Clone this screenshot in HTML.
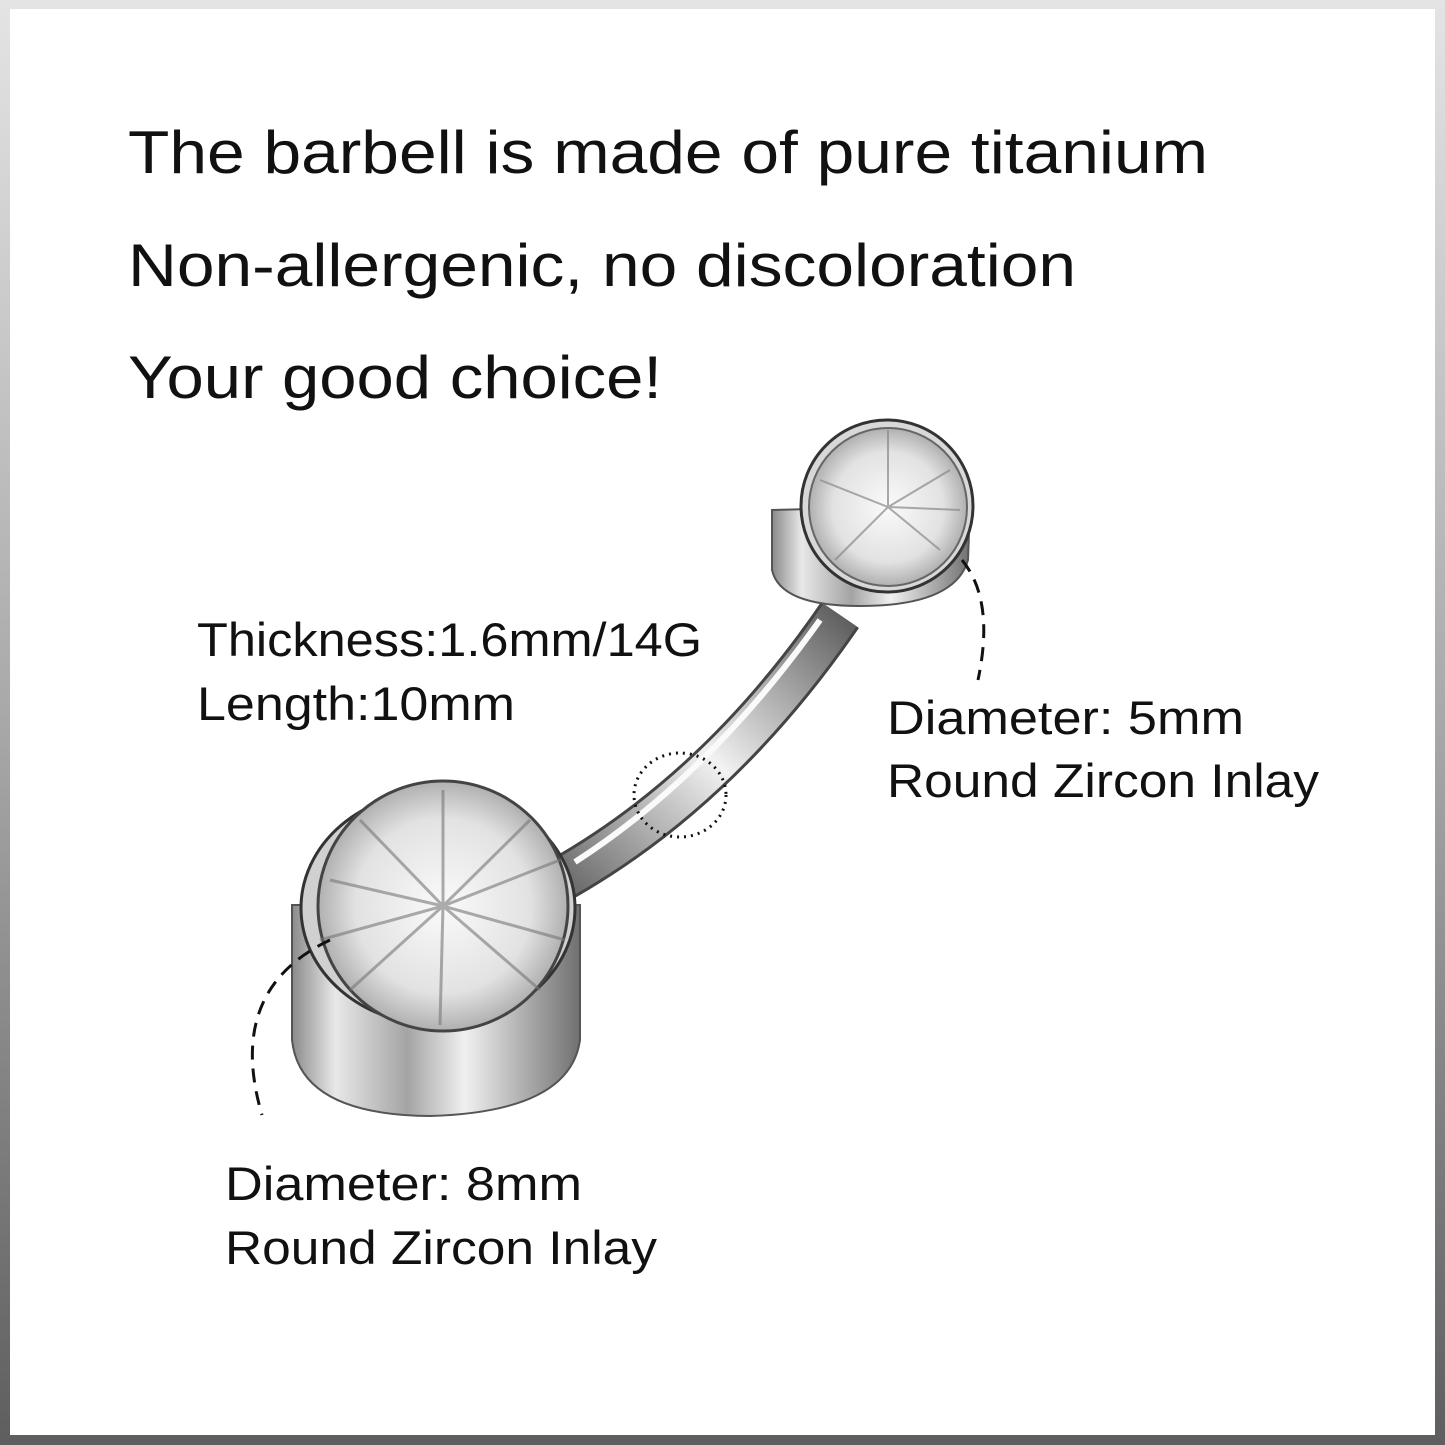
<!DOCTYPE html>
<html><head><style>html,body{margin:0;padding:0;background:#fff}svg{display:block}</style></head>
<body>
<svg width="1445" height="1445" viewBox="0 0 1445 1445" xmlns="http://www.w3.org/2000/svg">
<defs>
<linearGradient id="frame" x1="0" y1="0" x2="0" y2="1">
<stop offset="0" stop-color="#e4e4e4"/><stop offset="0.5" stop-color="#a8a8a8"/><stop offset="1" stop-color="#5e5e5e"/>
</linearGradient>
<linearGradient id="metal" x1="0" y1="0" x2="1" y2="0">
<stop offset="0" stop-color="#8a8a8a"/><stop offset="0.15" stop-color="#e8e8e8"/><stop offset="0.4" stop-color="#a4a4a4"/><stop offset="0.6" stop-color="#f0f0f0"/><stop offset="0.85" stop-color="#a0a0a0"/><stop offset="1" stop-color="#707070"/>
</linearGradient>
<linearGradient id="bar" x1="0" y1="1" x2="1" y2="0">
<stop offset="0" stop-color="#6a6a6a"/><stop offset="0.5" stop-color="#f2f2f2"/><stop offset="1" stop-color="#606060"/>
</linearGradient>
<radialGradient id="gem" cx="0.5" cy="0.5" r="0.5">
<stop offset="0" stop-color="#fafafa"/><stop offset="0.7" stop-color="#e2e2e2"/><stop offset="1" stop-color="#b0b0b0"/>
</radialGradient>
</defs>
<rect width="1445" height="1445" fill="url(#frame)"/>
<rect x="10" y="9" width="1425" height="1426" fill="#fff"/>
<g font-family="Liberation Sans, sans-serif" fill="#111">
<text x="128" y="173" font-size="60" textLength="1080" lengthAdjust="spacingAndGlyphs">The barbell is made of pure titanium</text>
<text x="128" y="286" font-size="60" textLength="948" lengthAdjust="spacingAndGlyphs">Non-allergenic, no discoloration</text>
<text x="128" y="398" font-size="60" textLength="534" lengthAdjust="spacingAndGlyphs">Your good choice!</text>
<text x="197" y="656" font-size="47" textLength="505" lengthAdjust="spacingAndGlyphs">Thickness:1.6mm/14G</text>
<text x="197" y="720" font-size="47" textLength="318" lengthAdjust="spacingAndGlyphs">Length:10mm</text>
<text x="887" y="734" font-size="47" textLength="357" lengthAdjust="spacingAndGlyphs">Diameter: 5mm</text>
<text x="887" y="797" font-size="47" textLength="432" lengthAdjust="spacingAndGlyphs">Round Zircon Inlay</text>
<text x="225" y="1200" font-size="47" textLength="357" lengthAdjust="spacingAndGlyphs">Diameter: 8mm</text>
<text x="225" y="1264" font-size="47" textLength="432" lengthAdjust="spacingAndGlyphs">Round Zircon Inlay</text>
</g>
<!-- bar -->
<path d="M560 880 Q720 790 840 615" stroke="#444" stroke-width="46" fill="none"/>
<path d="M560 880 Q720 790 840 615" stroke="url(#bar)" stroke-width="40" fill="none"/>
<path d="M575 862 Q710 775 820 620" stroke="#fafafa" stroke-width="6" fill="none"/>
<!-- small ball -->
<path d="M772 510 L772 570 Q780 606 860 606 Q955 606 968 560 L970 505 Z" fill="url(#metal)" stroke="#555" stroke-width="2"/>
<circle cx="887" cy="506" r="86" fill="#d8d8d8" stroke="#333" stroke-width="3"/>
<circle cx="888" cy="507" r="79" fill="url(#gem)" stroke="#666" stroke-width="2"/>
<g stroke="#888" stroke-width="2" fill="none" opacity="0.7">
<path d="M820 480 L888 507 L950 470 M835 560 L888 507 L940 550 M888 430 L888 507 L960 510"/>
</g>
<!-- big ball -->
<path d="M292 905 L292 1040 Q300 1115 430 1116 Q570 1112 580 1040 L580 905 Z" fill="url(#metal)" stroke="#555" stroke-width="2"/>
<ellipse cx="438" cy="908" rx="137" ry="117" fill="#d0d0d0" stroke="#333" stroke-width="3"/>
<circle cx="443" cy="906" r="125" fill="url(#gem)" stroke="#444" stroke-width="3"/>
<g stroke="#777" stroke-width="3" fill="none" opacity="0.6">
<path d="M330 880 L443 906 L560 860 M350 990 L443 906 L540 990 M443 790 L443 906 L440 1025 M360 820 L443 906 L530 820 M320 940 L443 906 L565 940"/>
</g>
<!-- dashed annotations -->
<path d="M962 560 Q995 600 978 680" stroke="#111" stroke-width="3" stroke-dasharray="14 9" fill="none"/>
<path d="M330 940 Q225 990 262 1115" stroke="#111" stroke-width="3" stroke-dasharray="14 9" fill="none"/>
<ellipse cx="680" cy="795" rx="46" ry="42" stroke="#111" stroke-width="3" stroke-dasharray="2 5" fill="none"/>
</svg>
</body></html>
